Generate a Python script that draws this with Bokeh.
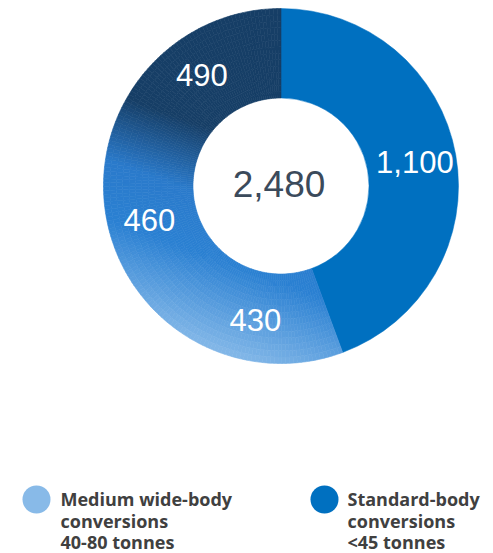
import numpy as np
from bokeh.plotting import figure
from bokeh.models import Range1d, ColumnDataSource
from bokeh.embed import file_html
from bokeh.resources import INLINE
from bokeh.core.properties import value

# ---------------- data ----------------
segment_labels = ["1,100", "430", "460", "490"]
segment_values = [1100, 430, 460, 490]
total_label = "2,480"
legend_lines = [["Medium wide-body", "conversions", "40-80 tonnes"],
                ["Standard-body", "conversions", "<45 tonnes"]]
legend_colors = ["#88bae8", "#0070c0"]
standard_color = "#0070c0"
gradient_stops_s = [-185, -90, -35, 30]
gradient_stops_c = ["#8cbdea", "#2a80d2", "#2a7acb", "#163e66"]

# ---------------- layout ----------------
W, H = 493, 553
PH = 553  # y_data = PH - y_image
p = figure(width=W, height=H, x_range=Range1d(0, W), y_range=Range1d(0, H),
           output_backend="svg", toolbar_location=None, min_border=0)
p.axis.visible = False
p.grid.visible = False
p.outline_line_color = None
p.background_fill_color = "white"
p.border_fill_color = "white"

cx, cy = 280.5, PH - 185.5
r_in, r_out = 88.0, 177.5

vals = np.array(segment_values, dtype=float)
frac = vals / vals.sum()
cum = np.concatenate([[0], np.cumsum(frac)])


def to_math(f):
    return np.pi / 2 - 2 * np.pi * f


def hex2rgb(h):
    h = h.lstrip("#")
    return np.array([int(h[i:i + 2], 16) for i in (0, 2, 4)], dtype=float)


stop_rgb = [hex2rgb(c) for c in gradient_stops_c]


def grad_color(s):
    r = np.array([np.interp(s, gradient_stops_s, [c[k] for c in stop_rgb]) for k in range(3)])
    return "#%02x%02x%02x" % tuple(int(round(v)) for v in r)


# standard-body slice (solid)
p.annular_wedge(x=cx, y=cy, inner_radius=r_in, outer_radius=r_out,
                start_angle=to_math(cum[1]), end_angle=to_math(cum[0]),
                fill_color=standard_color, line_color=standard_color, line_width=0.5)

# medium wide-body slices with a linear gradient (approximated by small pieces)
a = np.deg2rad(20)
xs, ys, sa, ea, ri, ro, cols = [], [], [], [], [], [], []
n_ang, n_rad = 160, 14
f_edges = np.linspace(cum[1], cum[-1], n_ang + 1)
r_edges = np.linspace(r_in, r_out, n_rad + 1)
for i in range(n_ang):
    f0, f1 = f_edges[i], f_edges[i + 1]
    fm = 0.5 * (f0 + f1)
    for j in range(n_rad):
        rm = 0.5 * (r_edges[j] + r_edges[j + 1])
        ang = to_math(fm)
        px = cx + rm * np.cos(ang)
        py_img = PH - (cy + rm * np.sin(ang))
        s = -(py_img - 185.5) * np.cos(a) + (px - 280.5) * np.sin(a)
        xs.append(cx); ys.append(cy)
        sa.append(to_math(f1)); ea.append(to_math(f0))
        ri.append(r_edges[j]); ro.append(r_edges[j + 1])
        cols.append(grad_color(s))
src = ColumnDataSource(dict(x=xs, y=ys, sa=sa, ea=ea, ri=ri, ro=ro, c=cols))
p.annular_wedge(x="x", y="y", inner_radius="ri", outer_radius="ro", start_angle="sa",
                end_angle="ea", fill_color="c", line_color="c", line_width=0.6, source=src)

# slice labels
r_lab = 136
mids = to_math(0.5 * (cum[:-1] + cum[1:]))
lab_src = ColumnDataSource(dict(x=cx + r_lab * np.cos(mids), y=cy + r_lab * np.sin(mids),
                                t=segment_labels))
p.text(x="x", y="y", text="t", source=lab_src, text_color="white",
       text_font=value("Liberation Sans"), text_font_size="31px",
       text_align="center", text_baseline="middle")

# total
p.text(x=[cx - 2], y=[cy + 2], text=[total_label], text_color="#3b4a5b",
       text_font=value("Liberation Sans"), text_font_size="37px",
       text_align="center", text_baseline="middle")

# legend
leg_cx = [36, 324]
leg_cy = [PH - 499, PH - 499]
p.scatter(x=leg_cx, y=leg_cy, size=28, marker="circle", fill_color=legend_colors,
          line_color=None)
text_x0 = [60, 347]
mid0 = [498.5, 498.5]
lx, ly, lt = [], [], []
for k in range(2):
    for m, line in enumerate(legend_lines[k]):
        lx.append(text_x0[k])
        ly.append(PH - (mid0[k] + 21.5 * m))
        lt.append(line)
p.text(x=lx, y=ly, text=lt, text_color="#404040", text_font=value("Open Sans"),
       text_font_size="18px", text_font_style="bold", text_align="left",
       text_baseline="middle")

open("out.html", "w").write(file_html(p, INLINE))
